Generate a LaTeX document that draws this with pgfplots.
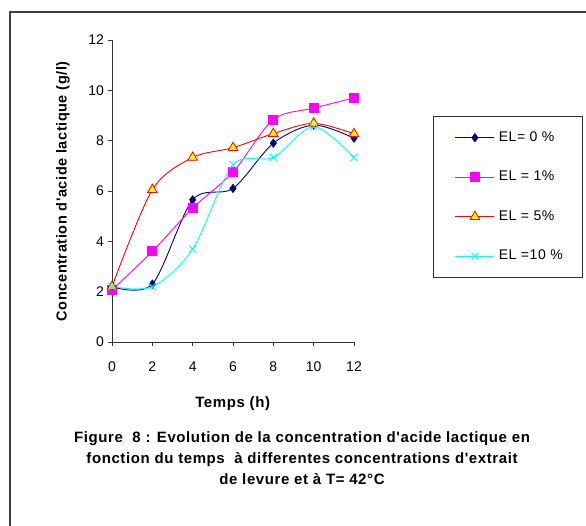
\documentclass[border=0pt]{standalone}
\usepackage{pgfplots}
\pgfplotsset{compat=1.18}
\usepackage{fontspec}
\setmainfont{Liberation Sans}
\newfontfamily\capfont[LetterSpace=4]{Liberation Sans}
\definecolor{navyc}{RGB}{0,0,128}
\definecolor{magc}{RGB}{255,0,255}
\definecolor{redc}{RGB}{255,0,0}
\definecolor{yelc}{RGB}{255,255,0}
\definecolor{cyac}{RGB}{0,255,255}
\begin{document}
\begin{tikzpicture}
\useasboundingbox (0pt,0pt) rectangle (586pt,526pt);
\draw[line width=1.5pt, black!75] (10pt,-10pt) -- (10pt,514pt) -- (600pt,514pt);
\begin{axis}[
  at={(112pt,184pt)}, anchor=south west,
  scale only axis, width=242pt, height=302pt,
  xmin=0, xmax=12, ymin=0, ymax=12,
  axis lines=left, axis line style={-, black!80, line width=0.7pt},
  xtick={0,2,...,12}, ytick={0,2,...,12},
  tick align=outside, major tick length=4.5pt,
  tick style={black!80, line width=0.7pt},
  tick label style={font=\fontsize{14}{16}\selectfont},
  xticklabel style={yshift=-12pt},
  /pgf/number format/assume math mode=true,
  clip=false,
  xlabel={\textbf{Temps (h)}},
  xlabel style={at={(axis description cs:0.5,-0.205)}, anchor=center, font=\capfont\fontsize{15}{17}\selectfont},
  ylabel={\textbf{Concentration d'acide lactique (g/l)}},
  ylabel style={at={(axis description cs:-0.203,0.5)}, anchor=center, font=\capfont\fontsize{14.5}{17}\selectfont},
  legend style={at={(axis description cs:1.3264,0.748)}, anchor=north west,
    draw=black!80, line width=0.8pt, inner xsep=0pt, inner ysep=15pt,
    row sep=27pt, column sep=4pt,
    font=\capfont\fontsize{14}{16}\selectfont,
    nodes={draw=none, inner sep=0pt, text height=10pt, text depth=2.5pt}},
  legend cell align=left,
  legend image code/.code={
    \path[draw=none, fill=none] (0pt,-6pt) rectangle (61pt,6pt);
    \draw[#1, mark=none] (22pt,0pt) -- (61pt,0pt);
    \draw[#1, only marks] plot coordinates {(41.5pt,0pt)};
  },
  every axis plot/.append style={line width=0.9pt, smooth, tension=0.5},
]
\addplot[navyc, mark=diamond*, mark size=4pt, mark options={fill=navyc, draw=navyc}]
  coordinates {(0,2.2)(2,2.3)(4,5.65)(6,6.1)(8,7.9)(10,8.62)(12,8.1)};
\addlegendentry{\makebox[84pt][l]{EL= 0 \%}}
\addplot[magc, mark=square*, mark size=4.5pt, mark options={fill=magc, draw=magc}]
  coordinates {(0,2.07)(2,3.6)(4,5.32)(6,6.75)(8,8.84)(10,9.29)(12,9.7)};
\addlegendentry{\makebox[84pt][l]{EL = 1\%}}
\addplot[redc, mark=triangle*, mark size=5.5pt, mark options={fill=yelc, draw=redc, line width=0.8pt}]
  coordinates {(0,2.2)(2,6.05)(4,7.33)(6,7.72)(8,8.28)(10,8.69)(12,8.27)};
\addlegendentry{\makebox[84pt][l]{EL = 5\%}}
\addplot[cyac, mark=x, mark size=5pt, mark options={draw=cyac, line width=0.9pt}]
  coordinates {(0,2.2)(2,2.2)(4,3.69)(6,7.04)(8,7.33)(10,8.56)(12,7.33)};
\addlegendentry{\makebox[84pt][l]{EL =10 \%}}
\end{axis}
\node[align=center, font=\capfont\bfseries\fontsize{15}{21}\selectfont] at (302pt,68pt)
  {Figure\ \ 8 : Evolution de la concentration d'acide lactique en\\
   fonction du temps\ \ à differentes concentrations d'extrait\\
   de levure et à T= 42°C};
\end{tikzpicture}
\end{document}
